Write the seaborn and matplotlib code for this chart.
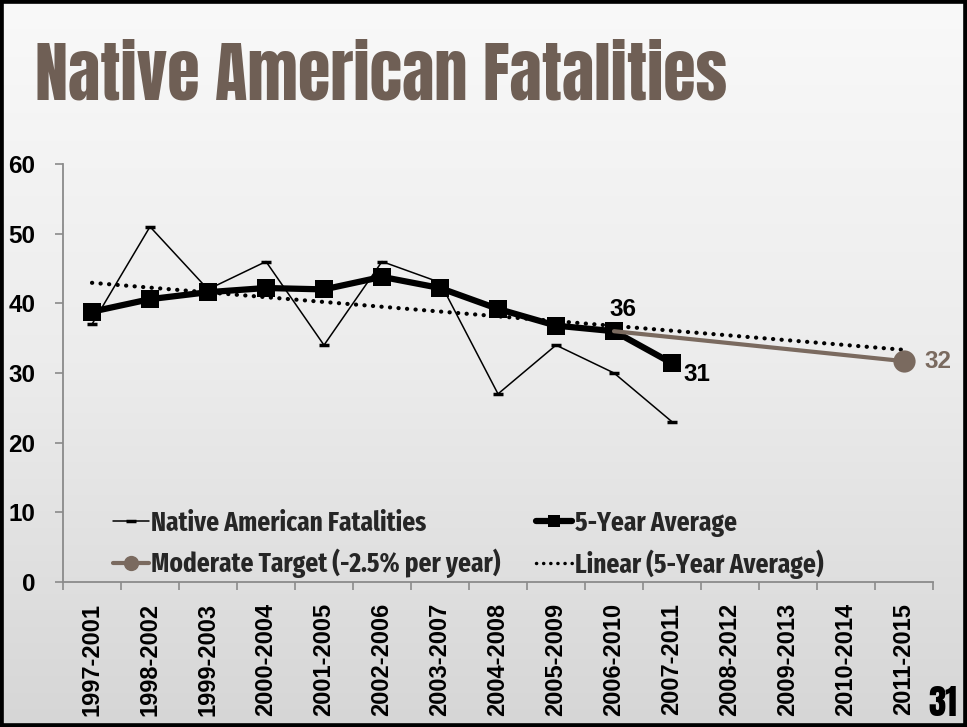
import numpy as np
import matplotlib
matplotlib.use("Agg")
import matplotlib.pyplot as plt
import seaborn as sns
from matplotlib.patches import Rectangle
from matplotlib.lines import Line2D
from matplotlib.ticker import FixedLocator

# ---------------- data ----------------
periods = ["1997-2001", "1998-2002", "1999-2003", "2000-2004", "2001-2005",
           "2002-2006", "2003-2007", "2004-2008", "2005-2009", "2006-2010",
           "2007-2011", "2008-2012", "2009-2013", "2010-2014", "2011-2015"]
fatalities = [37, 51, 42, 46, 34, 46, 43, 27, 34, 30, 23]
five_year_avg = [38.8, 40.6, 41.6, 42.2, 42.0, 43.8, 42.2, 39.2, 36.8, 36.0, 31.4]
target_periods = ["2006-2010", "2011-2015"]
target_values = [36.0, 31.7]
y_ticks = [0, 10, 20, 30, 40, 50, 60]
title = "Native American Fatalities"
page_number = "31"

# ---------------- style ----------------
sns.set_theme(style="white")
plt.rcParams["font.family"] = ["Liberation Sans", "DejaVu Sans"]
BROWN = "#7a6a5f"
TITLE_BROWN = "#6f5f55"
AXIS_GRAY = "#8a8a8a"
TITLE_FONT = ["Anton", "League Gothic", "Liberation Sans", "DejaVu Sans"]
LEGEND_FONT = ["Fira Sans Extra Condensed", "Liberation Sans", "DejaVu Sans"]

W, H = 967, 727
fig = plt.figure(figsize=(W / 100, H / 100), dpi=100)

# background gradient
bg = fig.add_axes([0, 0, 1, 1], zorder=-10)
grad = np.linspace(0, 1, 256).reshape(-1, 1)
cmap = matplotlib.colors.LinearSegmentedColormap.from_list("bg", ["#f9f9f9", "#ececec", "#d6d6d6"])
bg.imshow(grad, aspect="auto", cmap=cmap, extent=[0, 1, 0, 1], origin="upper")
bg.set_axis_off()

ax = fig.add_axes([63 / W, 1 - 582 / H, (933 - 63) / W, (582 - 164) / H])
ax.set_facecolor("none")

pos = {p: i for i, p in enumerate(periods)}
x_obs = np.array([pos[p] for p in periods[:len(fatalities)]])
x_tgt = np.array([pos[p] for p in target_periods])

# linear trend of the 5-year average, extended to the last period
coef = np.polyfit(x_obs, five_year_avg, 1)
x_tr = np.array([0, len(periods) - 1])
y_tr = np.polyval(coef, x_tr)

DOT = (0, (0.05, 2.0))
sns.lineplot(x=x_tr, y=y_tr, ax=ax, color="black", linewidth=3.0,
             linestyle=DOT, dash_capstyle="round", zorder=2)
sns.lineplot(x=x_obs, y=fatalities, ax=ax, color="black", linewidth=1.1,
             marker="_", markersize=7, markeredgewidth=2.5, markeredgecolor="black", zorder=3)
sns.lineplot(x=x_tgt, y=target_values, ax=ax, color=BROWN, linewidth=3.0,
             marker="o", markersize=16, markevery=[1], markeredgewidth=0,
             markeredgecolor=BROWN, zorder=5)
sns.lineplot(x=x_obs, y=five_year_avg, ax=ax, color="black", linewidth=4.5,
             marker="s", markersize=12.5, markeredgewidth=0, markeredgecolor="black", zorder=4)

ax.set_xlim(-0.5, len(periods) - 0.5)
ax.set_ylim(0, 60)
ax.set_yticks(y_ticks)
ax.set_yticklabels([str(v) for v in y_ticks], fontsize=17.5, fontweight="bold", color="black")
ax.set_xticks(range(len(periods)))
ax.set_xticklabels(periods, rotation=90, fontsize=17, fontweight="bold", color="black")
ax.xaxis.set_minor_locator(FixedLocator(np.arange(-0.5, len(periods), 1.0)))
ax.tick_params(axis="x", which="major", length=0, pad=15)
ax.tick_params(axis="x", which="minor", length=6, width=1.2, color=AXIS_GRAY, direction="out", bottom=True)
ax.tick_params(axis="y", which="major", length=6, width=1.2, color=AXIS_GRAY, direction="out", left=True, pad=14)
for s in ["top", "right"]:
    ax.spines[s].set_visible(False)
for s in ["left", "bottom"]:
    ax.spines[s].set_color(AXIS_GRAY)
    ax.spines[s].set_linewidth(1.3)
ax.set_xlabel("")
ax.set_ylabel("")

# data labels
lab_kw = dict(textcoords="offset pixels", ha="center", va="center", fontsize=17.5,
              fontweight="bold", zorder=6)
ax.annotate(f"{five_year_avg[9]:.0f}", (x_obs[9], five_year_avg[9]), xytext=(9, 22),
            color="black", **lab_kw)
ax.annotate(f"{five_year_avg[10]:.0f}", (x_obs[10], five_year_avg[10]), xytext=(25, -11),
            color="black", **lab_kw)
ax.annotate(f"{target_values[1]:.0f}", (x_tgt[1], target_values[1]), xytext=(34, 0),
            color=BROWN, **lab_kw)

renderer = fig.canvas.get_renderer()


def fit_width(txt, target_px):
    w = txt.get_window_extent(renderer=renderer).width
    if w > 0:
        txt.set_fontsize(txt.get_fontsize() * target_px / w)


# legend font size fitted to the reference text width
probe = fig.text(0, 0, "Native American Fatalities", family=LEGEND_FONT,
                 fontweight="bold", fontsize=19)
fit_width(probe, 274)
leg_size = probe.get_fontsize()
probe.remove()

handles = [
    Line2D([], [], color="black", lw=1.1, marker="_", markersize=7, markeredgewidth=2.5),
    Line2D([], [], color=BROWN, lw=3.0, marker="o", markersize=11, markeredgewidth=0),
    Line2D([], [], color="black", lw=4.5, marker="s", markersize=9, markeredgewidth=0),
    Line2D([], [], color="black", lw=2.5, linestyle=DOT, dash_capstyle="round"),
]
labels = ["Native American Fatalities", "Moderate Target (-2.5% per year)",
          "5-Year Average", "Linear (5-Year Average)"]
leg = ax.legend(handles, labels, ncol=2, loc="upper left",
                bbox_to_anchor=(113 / W, 1 - 510 / H), bbox_transform=fig.transFigure,
                frameon=False, borderpad=0, borderaxespad=0, handlelength=1.3,
                handletextpad=0.1, columnspacing=1.3, labelspacing=0.45,
                prop={"family": LEGEND_FONT, "weight": "bold", "size": leg_size})

# title and page number
t = fig.text(35 / W, 1 - 100 / H, title, family=TITLE_FONT, fontsize=50,
             color=TITLE_BROWN, ha="left", va="baseline")
fit_width(t, 692)
pn = fig.text(957 / W, 1 - 716 / H, page_number, family=TITLE_FONT, fontsize=24,
              color="black", ha="right", va="baseline")
fit_width(pn, 29)

# frame
fig.patches.append(Rectangle((0, 0), 1, 1, transform=fig.transFigure, fill=False,
                             edgecolor="black", linewidth=5.5, zorder=20))

fig.savefig("out.png", dpi=100)
